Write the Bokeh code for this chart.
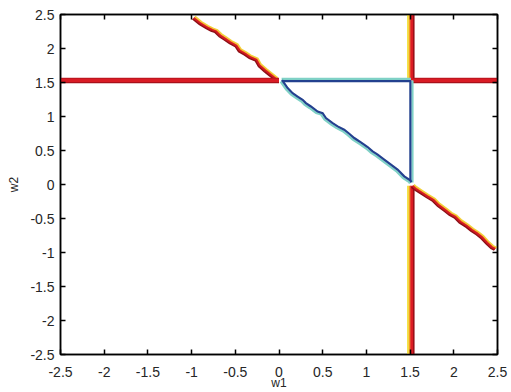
from bokeh.plotting import figure
from bokeh.models import LinearAxis, FixedTicker, Range1d
from bokeh.embed import file_html
from bokeh.resources import INLINE

# Axis ticks
ticks = [-2.5, -2, -1.5, -1, -0.5, 0, 0.5, 1, 1.5, 2, 2.5]
tick_labels = ["-2.5", "-2", "-1.5", "-1", "-0.5", "0", "0.5", "1", "1.5", "2", "2.5"]

# Contour pieces of the outer (high) level set
h_left_w1 = [-2.5, 0.0]
h_left_w2 = [1.53, 1.53]
h_right_w1 = [1.53, 2.5]
h_right_w2 = [1.53, 1.53]
v_up_w1 = [1.51, 1.51]
v_up_w2 = [1.53, 2.5]
v_down_w1 = [1.51, 1.51]
v_down_w2 = [-0.02, -2.5]
d_up_w1 = [-0.975, -0.898, -0.822, -0.764, -0.719, -0.669, -0.612, -0.555, -0.486,
           -0.448, -0.383, -0.326, -0.257, -0.220, -0.154, -0.097, -0.029]
d_up_w2 = [2.452, 2.373, 2.314, 2.276, 2.255, 2.192, 2.144, 2.094, 2.045,
           1.972, 1.924, 1.874, 1.836, 1.752, 1.679, 1.620, 1.551]
d_down_w1 = [1.53, 1.562, 1.638, 1.696, 1.771, 1.828, 1.905, 1.962, 2.019, 2.077,
             2.153, 2.210, 2.268, 2.325, 2.382, 2.439, 2.477]
d_down_w2 = [-0.02, -0.056, -0.120, -0.169, -0.227, -0.301, -0.374, -0.433, -0.472, -0.545,
             -0.609, -0.667, -0.716, -0.774, -0.853, -0.921, -0.946]

# Contour pieces of the inner (low) level set: the triangle
t_top_w1 = [0.03, 1.51]
t_top_w2 = [1.53, 1.53]
t_side_w1 = [1.51, 1.51]
t_side_w2 = [1.53, 0.03]
t_diag_w1 = [1.51, 1.497, 1.428, 1.352, 1.276, 1.199, 1.124, 1.066, 1.009, 0.932, 0.856,
             0.799, 0.741, 0.666, 0.609, 0.532, 0.494, 0.437, 0.360, 0.303, 0.265,
             0.208, 0.151, 0.094, 0.03]
t_diag_w2 = [0.03, 0.056, 0.114, 0.213, 0.286, 0.359, 0.433, 0.481, 0.545, 0.613, 0.677,
             0.740, 0.799, 0.848, 0.897, 0.971, 1.044, 1.067, 1.141, 1.191, 1.239,
             1.287, 1.337, 1.411, 1.53]

W, H = 511, 392
L, R, T, B = 60, 14, 14, 37
PX_X = 5.0 / (W - L - R)
PX_Y = 5.0 / (H - T - B)

p = figure(width=W, height=H, output_backend="svg", toolbar_location=None,
           x_range=Range1d(-2.5, 2.5), y_range=Range1d(-2.5, 2.5),
           min_border_left=L, min_border_right=R, min_border_top=T, min_border_bottom=B,
           x_axis_label="w1", y_axis_label="w2")
p.grid.visible = False
p.outline_line_color = "black"
p.outline_line_width = 1.5
p.background_fill_color = "white"
p.border_fill_color = "white"

labels = dict(zip(ticks, tick_labels))
for ax in p.axis:
    ax.ticker = FixedTicker(ticks=ticks)
    ax.major_label_overrides = labels
    ax.major_tick_in = 5
    ax.major_tick_out = 0
    ax.minor_tick_in = 0
    ax.minor_tick_out = 0
    ax.axis_line_color = "black"
    ax.axis_line_width = 1.5
    ax.major_tick_line_width = 1.5
    ax.major_label_text_font = "Liberation Sans"
    ax.major_label_text_font_size = "14px"
    ax.major_label_text_color = "#262626"
    ax.axis_label_text_font = "Liberation Sans"
    ax.axis_label_text_font_size = "12px"
    ax.axis_label_text_font_style = "normal"
    ax.axis_label_text_color = "#262626"
p.xaxis.major_label_standoff = 12
p.xaxis.axis_label_standoff = -4
p.yaxis.major_label_standoff = 6
p.yaxis.axis_label_standoff = 6

# tick marks on the top and right edges of the box, without labels
for side in ("above", "right"):
    ax = LinearAxis(ticker=FixedTicker(ticks=ticks), major_tick_in=5, major_tick_out=0,
                    minor_tick_in=0, minor_tick_out=0, major_label_text_font_size="1px",
                    major_label_text_color=None, major_label_standoff=0,
                    axis_line_width=1.5, major_tick_line_width=1.5)
    p.add_layout(ax, side)


def shifted(xs, ys, nx, ny, d):
    # move a polyline d screen pixels along the unit screen normal (nx, ny)
    return [x + d * nx * PX_X for x in xs], [y + d * ny * PX_Y for y in ys]


S2 = 0.7071
# (offset px, colour, width) from the outer side to the inner side
hot_band = [(3.0, "#f2e23a", 1.8), (1.2, "#f39a1e", 2.0), (-0.8, "#dd1c24", 3.0), (-2.8, "#9b1018", 1.6)]
thin_hot = [(1.8, "#f2d23a", 1.6), (0.6, "#f39a1e", 1.4), (-0.5, "#d61a22", 2.4), (-1.8, "#8e0f16", 1.4)]
flat_hot = [(0.0, "#d91b24", 5.0), (-2.2, "#a8111a", 1.2), (2.2, "#b8141d", 1.0)]
cold_band = [(1.5, "#7fd1c6", 2.2), (-0.6, "#23418f", 2.2)]

hot_pieces = [
    (v_up_w1, v_up_w2, -1, 0, hot_band),
    (v_down_w1, v_down_w2, -1, 0, hot_band),
    (d_up_w1, d_up_w2, S2, S2, thin_hot),
    (d_down_w1, d_down_w2, S2, S2, thin_hot),
    (h_left_w1, h_left_w2, 0, 1, flat_hot),
    (h_right_w1, h_right_w2, 0, 1, flat_hot),
]
cold_pieces = [
    (t_top_w1, t_top_w2, 0, 1, cold_band),
    (t_side_w1, t_side_w2, 1, 0, cold_band),
    (t_diag_w1, t_diag_w2, -S2, -S2, cold_band),
]

for xs, ys, nx, ny, band in hot_pieces + cold_pieces:
    for d, color, lw in band:
        sx, sy = shifted(xs, ys, nx, ny, d)
        p.line(sx, sy, line_color=color, line_width=lw, line_cap="butt", line_join="miter")

open("out.html", "w").write(file_html(p, INLINE))
